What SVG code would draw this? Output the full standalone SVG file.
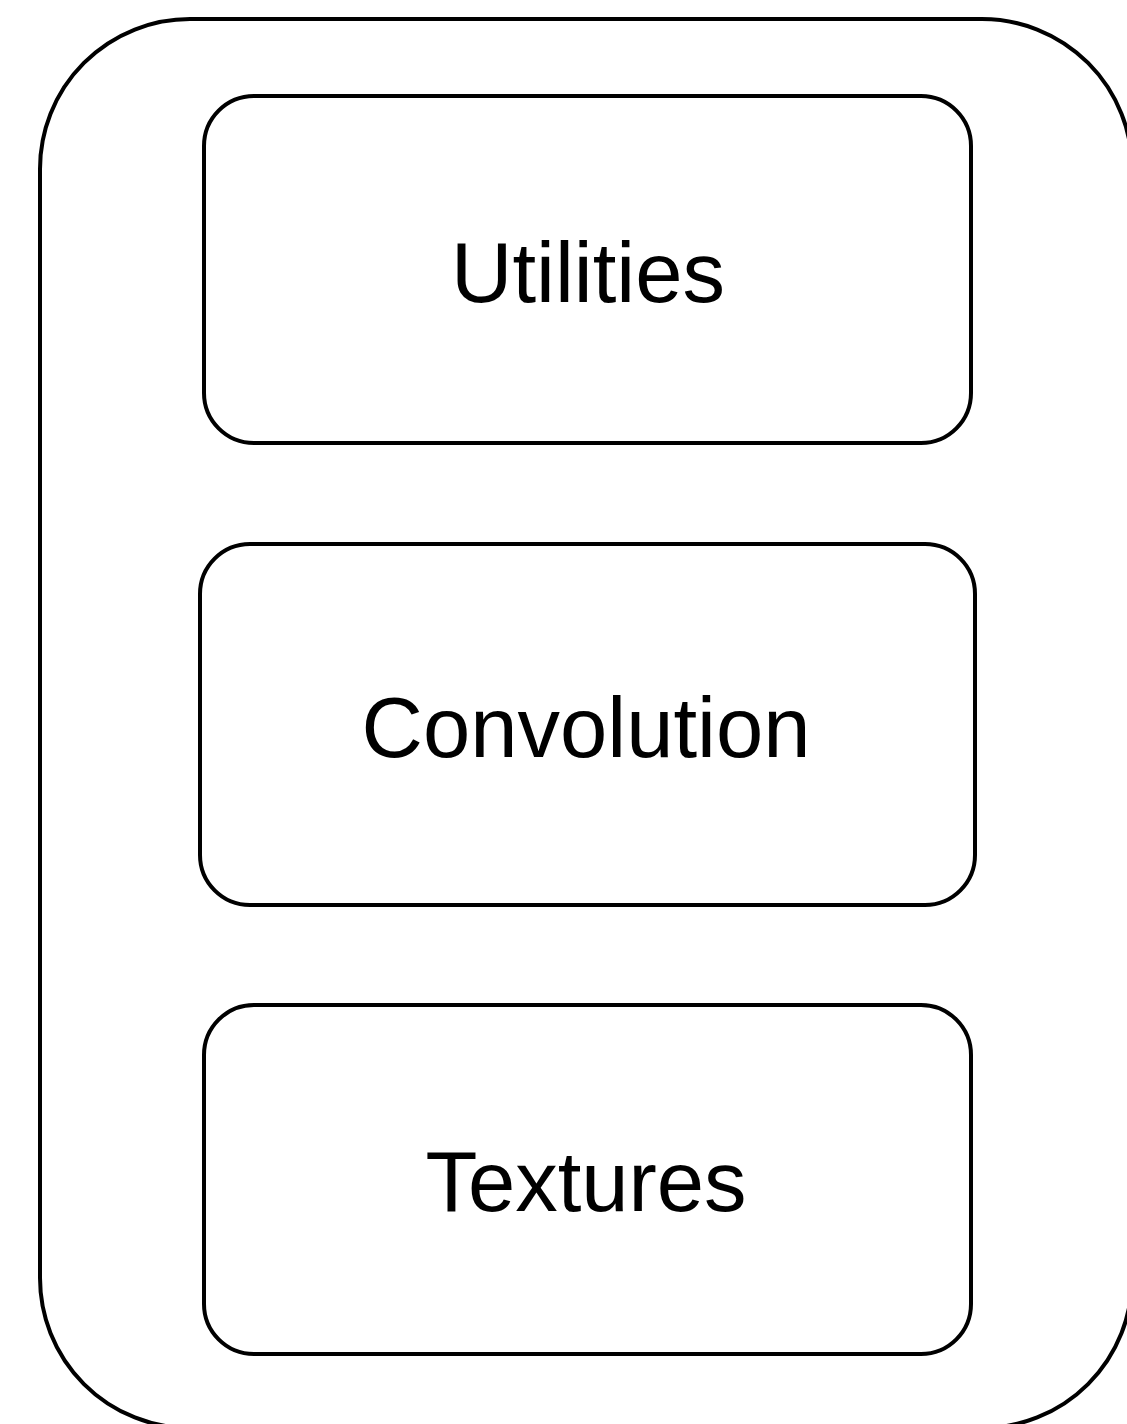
<svg xmlns="http://www.w3.org/2000/svg" width="1127" height="1424" viewBox="0 0 1127 1424">
  <style>
    .frame { fill: none; stroke: #000; stroke-width: 4; }
    .box { fill: #fff; stroke: #000; stroke-width: 4; }
    .label { font-family: "Liberation Sans", Arial, sans-serif; font-size: 85px; fill: #000; text-anchor: middle; }
  </style>
  <rect width="1127" height="1424" fill="#fff"/>
  <!-- enclosing container -->
  <g id="container">
    <rect class="frame" x="40" y="19" width="1092" height="1409" rx="150" ry="150"/>
  </g>
  <g id="utilities">
    <rect class="box" x="204" y="96" width="767" height="347" rx="50" ry="50"/>
    <text class="label" x="588" y="302">Utilities</text>
  </g>
  <g id="convolution">
    <rect class="box" x="200" y="544" width="775" height="361" rx="50" ry="50"/>
    <text class="label" x="586" y="757">Convolution</text>
  </g>
  <g id="textures">
    <rect class="box" x="204" y="1005" width="767" height="349" rx="50" ry="50"/>
    <text class="label" x="586" y="1211">Textures</text>
  </g>
  <g id="connectors"/>
</svg>
